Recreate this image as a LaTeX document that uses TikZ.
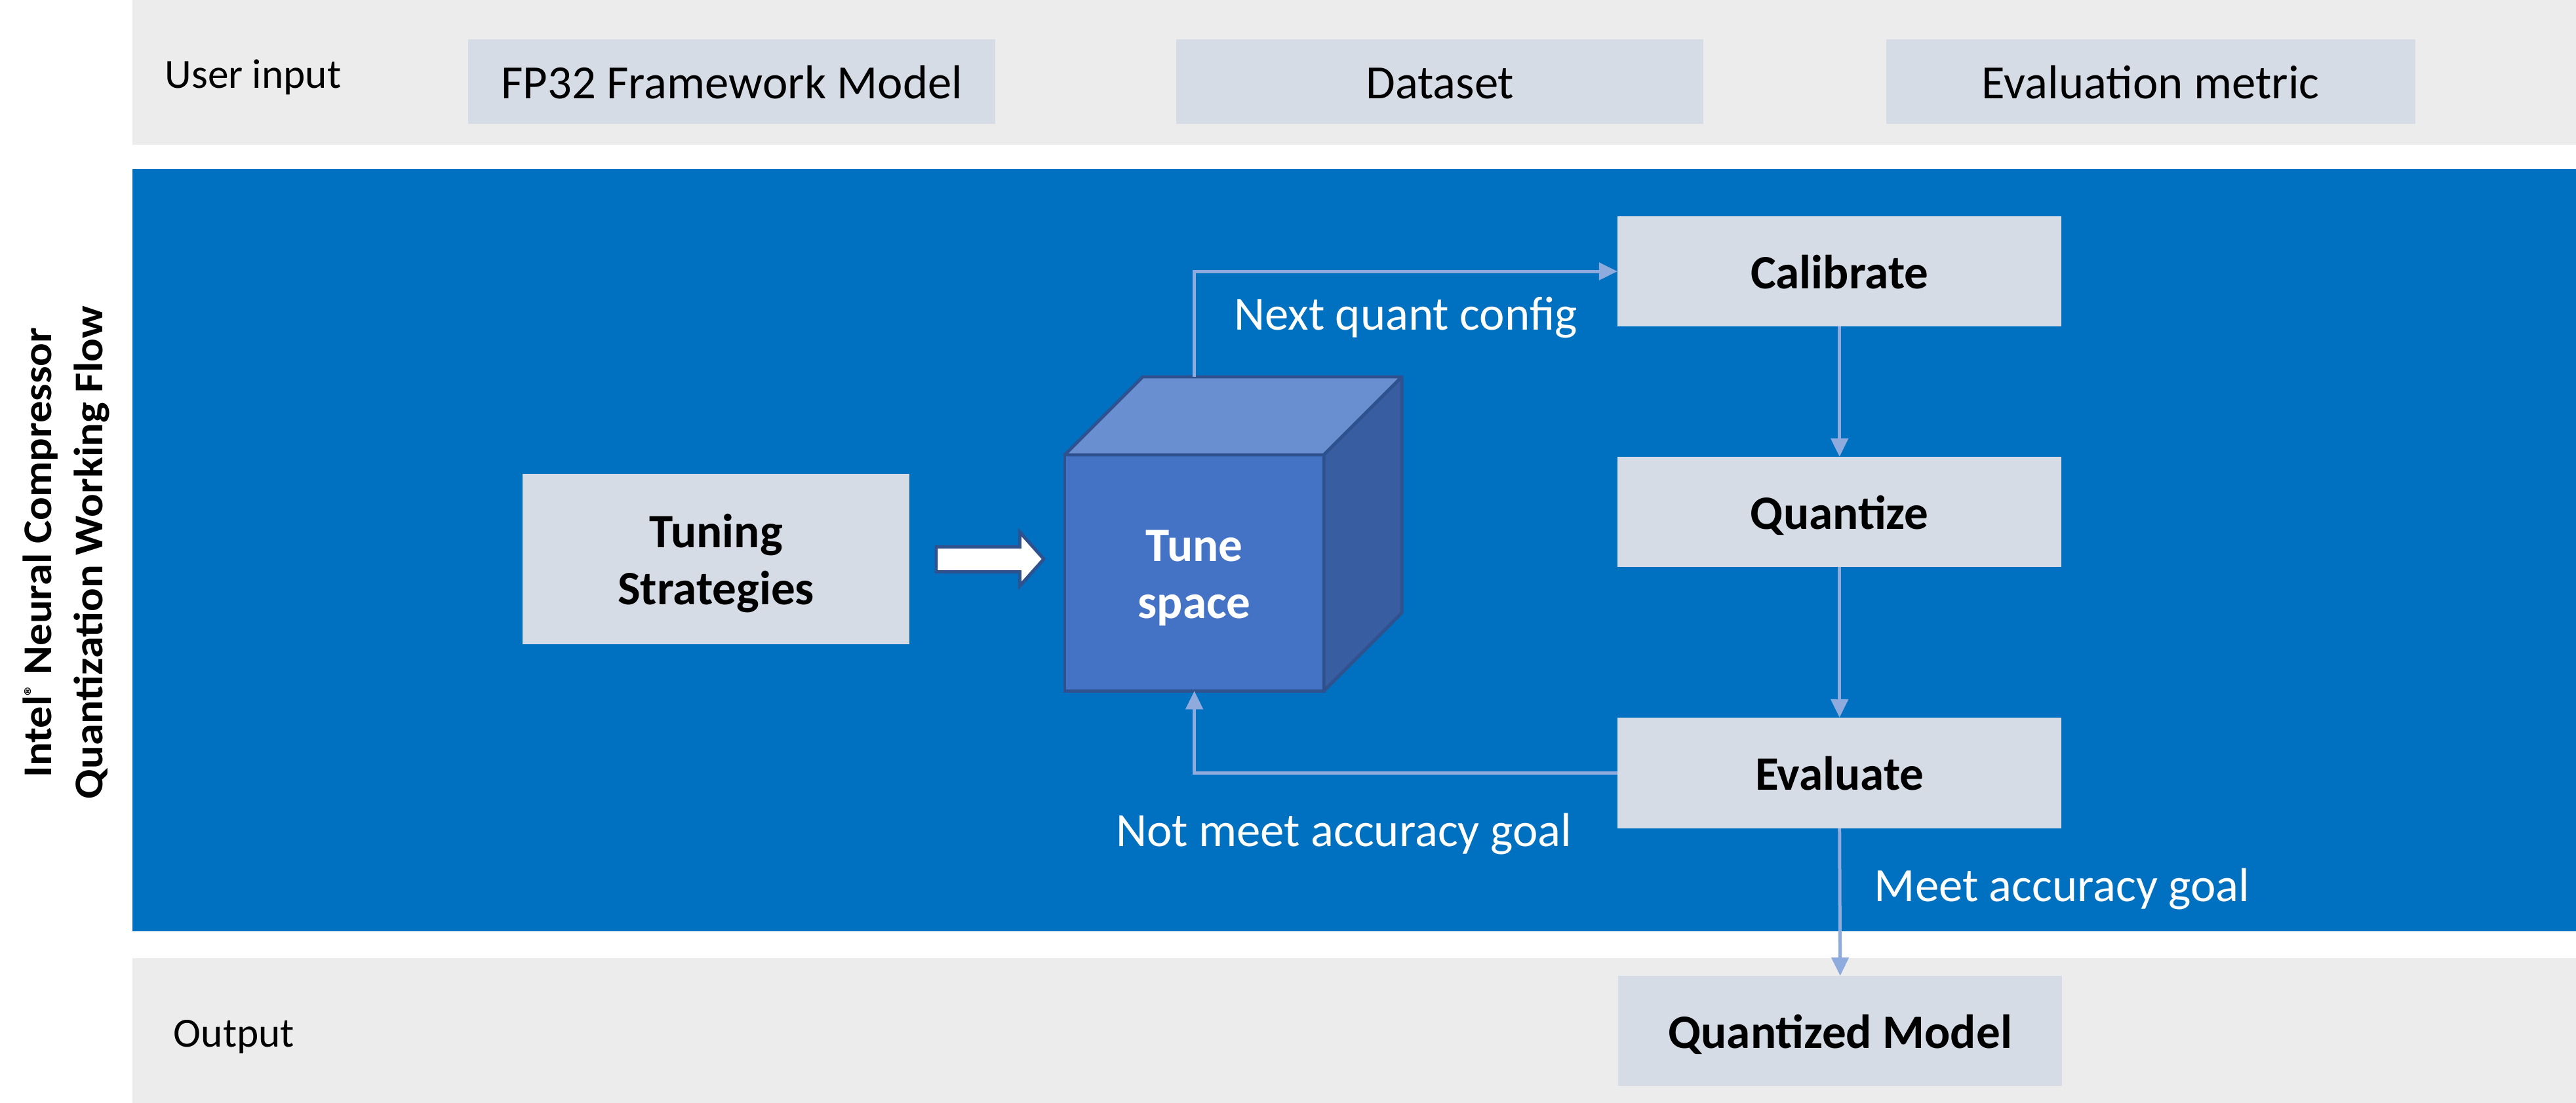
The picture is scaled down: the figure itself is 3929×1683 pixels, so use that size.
\documentclass[tikz,border=0pt]{standalone}
\usepackage{fontspec}
\setmainfont{Carlito}
\newfontfamily\titlefont[FakeStretch=1.07]{Carlito}
\usetikzlibrary{arrows.meta}
\definecolor{bandgray}{RGB}{236,236,236}
\definecolor{boxgray}{RGB}{214,220,229}
\definecolor{panelblue}{RGB}{0,112,192}
\definecolor{connblue}{RGB}{143,170,220}
\definecolor{cubefront}{RGB}{68,114,196}
\definecolor{cubetopc}{RGB}{106,143,208}
\definecolor{cubeside}{RGB}{56,93,160}
\definecolor{cubeline}{RGB}{47,82,143}
\begin{document}
\begin{tikzpicture}[x=0.01cm,y=-0.01cm,
  inbox/.style={fill=boxgray, draw=none, inner sep=0pt, outer sep=0pt, anchor=north west,
    font=\fontsize{20.7}{24.8}\selectfont, text height=14.8pt, text depth=0pt},
  stepbox/.style={fill=boxgray, draw=none, inner sep=0pt, outer sep=0pt, anchor=north west,
    font=\bfseries\fontsize{20.8}{24.8}\selectfont, text height=14.8pt, text depth=0pt,
    minimum width=6.77cm, minimum height=1.68cm},
  lbl/.style={inner sep=0pt, anchor=base, font=\fontsize{20.7}{24.8}\selectfont, text=white},
  sidelbl/.style={inner sep=0pt, anchor=base, font=\fontsize{18}{21.6}\selectfont},
  conn/.style={draw=connblue, line width=1.42pt, -{Triangle[length=8pt,width=7.4pt]}},
]
\useasboundingbox (0,0) rectangle (3929,1683);
% bands
\fill[bandgray] (202,0) rectangle (3929,221);
\fill[panelblue] (202,258) rectangle (3929,1421);
\fill[bandgray] (202,1462) rectangle (3929,1683);

% title
\node[rotate=90, inner sep=0pt, align=center, font=\titlefont\bfseries\fontsize{17.7}{22.2}\selectfont,
  text height=33.3pt, text depth=0pt] (title) at (98,843)
  {Intel\raisebox{5.4pt}{\fontsize{9}{9}\selectfont ®} Neural Compressor\\Quantization Working Flow};

% user input row
\node[sidelbl] (userin) at (386,135) {User input};
\node[inbox, minimum width=8.04cm, minimum height=1.29cm] (fp32) at (714,60) {FP32 Framework Model};
\node[inbox, minimum width=8.04cm, minimum height=1.29cm] (data) at (1794,60) {Dataset};
\node[inbox, minimum width=8.06cm, minimum height=1.29cm] (metric) at (2877,60) {Evaluation metric};

% output row
\node[sidelbl] (outlbl) at (357,1598) {Output};

% tuning strategies
\node[stepbox, minimum width=5.90cm, minimum height=2.60cm, align=center,
  text height=39.6pt, text depth=0pt] (tuning) at (797,723) {Tuning\\Strategies};

% block arrow
\filldraw[fill=white, draw=cubeline, line width=1.4pt, line join=miter]
  (1428,834.5) -- (1555.5,834.5) -- (1555.5,812) -- (1592,853) -- (1555.5,894)
  -- (1555.5,872.5) -- (1428,872.5) -- cycle;

% cube
\node[fill=cubefront, draw=cubeline, line width=1.4pt, inner sep=0pt, outer sep=0pt,
  anchor=north west, minimum width=3.95cm, minimum height=3.60cm, align=center, text=white,
  font=\bfseries\fontsize{20.8}{24.8}\selectfont, text height=39.6pt, text depth=0pt]
  (tune) at (1624,694) {Tune\\space};
\filldraw[fill=cubetopc, draw=cubeline, line width=1.4pt, line join=round]
  (tune.north west) -- ++(119,-119) -- ++(395,0) -- (tune.north east) -- cycle;
\filldraw[fill=cubeside, draw=cubeline, line width=1.4pt, line join=round]
  (tune.north east) -- ++(119,-119) -- ++(0,360) -- (tune.south east) -- cycle;
\coordinate (cubetopmid) at ([yshift=1.19cm]tune.north);

% steps
\node[stepbox] (calib) at (2467,330) {Calibrate};
\node[stepbox] (quant) at (2467,697) {Quantize};
\node[stepbox, minimum height=1.69cm] (eval) at (2467,1095) {Evaluate};
\node[stepbox] (qmodel) at (2468,1489) {Quantized Model};

% connectors
\draw[conn] (cubetopmid) |- (calib.west);
\draw[conn] (calib.south) -- (quant.north);
\draw[conn] (quant.south) -- (eval.north);
\draw[conn] (eval.west) -| (tune.south);
\draw[conn] (eval.south) -- (qmodel.north);

% labels
\node[lbl] (nextlbl) at (2144,504) {Next quant config};
\node[lbl] (notmeet) at (2049.5,1292) {Not meet accuracy goal};
\node[lbl] (meet) at (3145,1376) {Meet accuracy goal};
\end{tikzpicture}
\end{document}
